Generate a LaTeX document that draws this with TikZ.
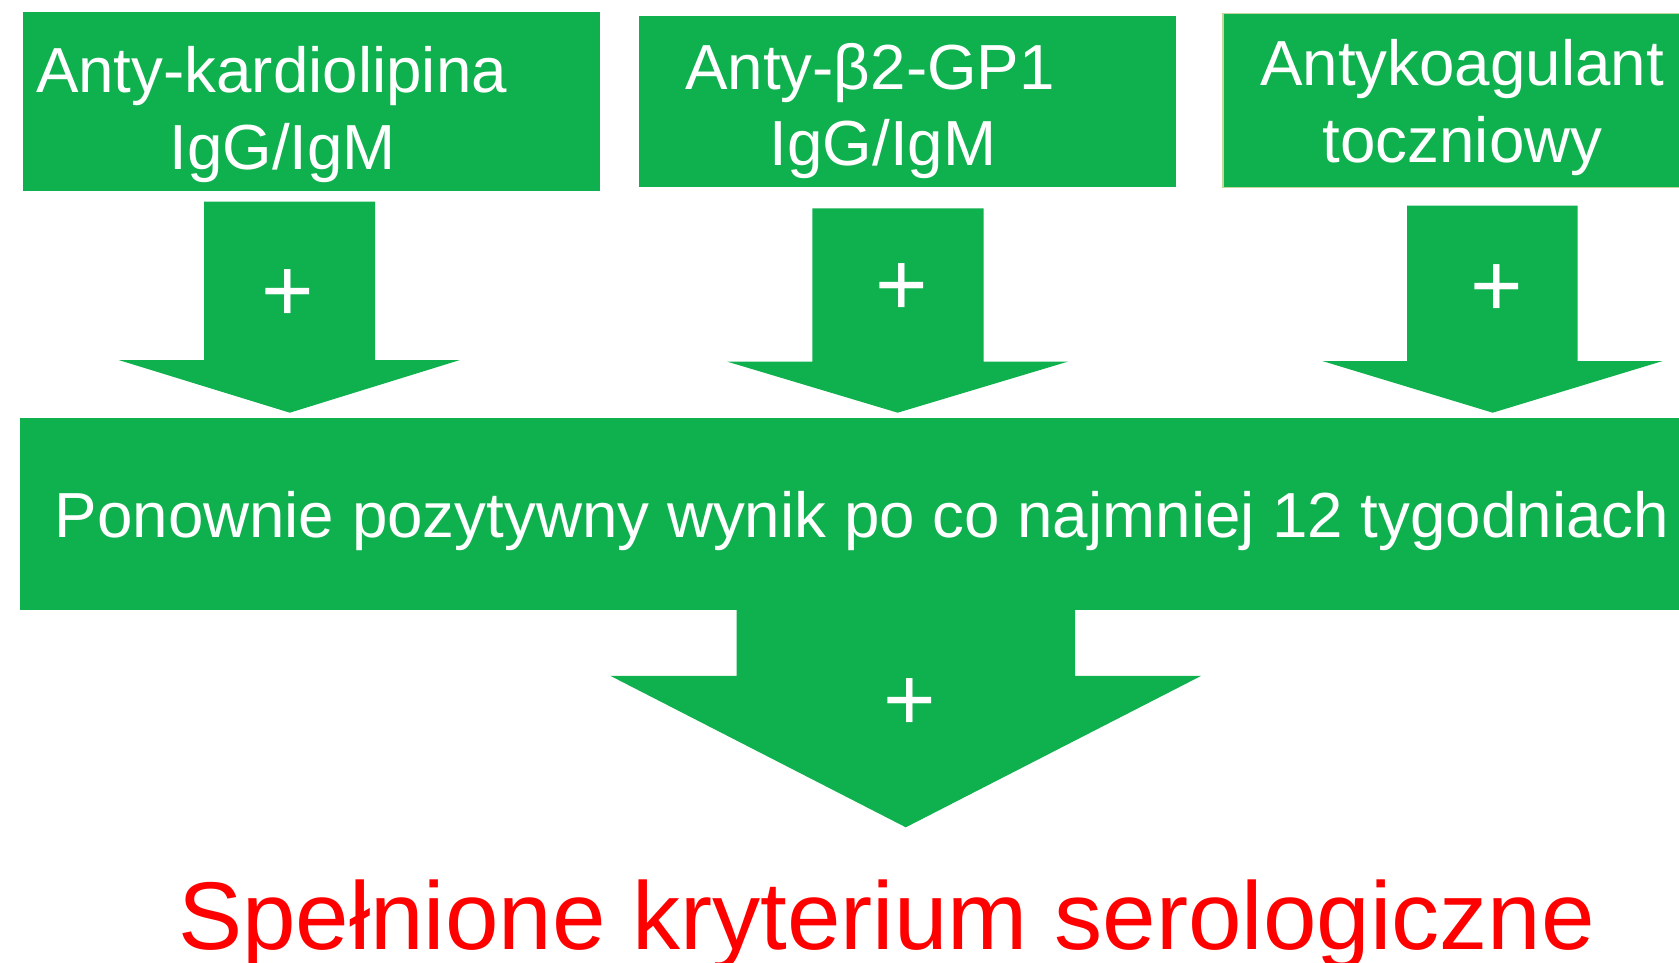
\documentclass[tikz,border=0pt]{standalone}
\usepackage{fontspec}
\setmainfont{Liberation Sans}
\definecolor{apsgreen}{RGB}{15,176,78}
\definecolor{boxedge}{RGB}{195,214,155}
\begin{document}
\begin{tikzpicture}[x=1pt,y=-1pt,
  panel/.style={fill=apsgreen, draw=none, inner sep=0, anchor=north west},
  lbl/.style={text=white, font=\fontsize{63.7}{76}\selectfont, inner sep=0, anchor=base},
  plussign/.style={text=white, font=\fontsize{90}{90}\selectfont, inner sep=0, anchor=base},
  blockarrow/.style={fill=apsgreen},
  result/.style={text=red, font=\fontsize{96.2}{100}\selectfont, inner sep=0, anchor=base}]
\useasboundingbox (0,0) rectangle (1679,963);

% three antibody tests
\node[panel, minimum width=577, minimum height=178.7] (kard) at (23,12) {};
\node[panel, minimum width=537, minimum height=170.7] (beta) at (639,16) {};
\node[panel, draw=boxedge, line width=1.5pt, minimum width=460, minimum height=174] (luac) at (1222.3,12.7) {};

\node[lbl] (kardA) at (271.5,92.3) {Anty-kardiolipina};
\node[lbl] (kardB) at (282.7,170) {IgG/IgM};
\node[lbl] (betaA) at (870,89.3) {Anty-β2-GP1};
\node[lbl] (betaB) at (883,165.7) {IgG/IgM};
\node[lbl] (luacA) at (1462,85.7) {Antykoagulant};
\node[lbl] (luacB) at (1462.5,162.3) {toczniowy};

% block arrows into the repeat-test bar
\fill[blockarrow] (204,201.7) -- (375,201.7) -- (375,360) -- (460,360) -- (289.8,412.7) -- (118.6,360) -- (204,360) -- cycle;
\fill[blockarrow] (812.4,208.3) -- (983.5,208.3) -- (983.5,361.7) -- (1067.7,361.7) -- (897.7,412.7) -- (727.4,361.7) -- (812.4,361.7) -- cycle;
\fill[blockarrow] (1407,205.7) -- (1577.7,205.7) -- (1577.7,361) -- (1662.7,361) -- (1492.7,412.7) -- (1322.3,361) -- (1407,361) -- cycle;

\node[plussign] (plusA) at (288,321) {+};
\node[plussign] (plusB) at (902,315.5) {+};
\node[plussign] (plusC) at (1496.7,316) {+};

% repeat-test bar
\node[panel, minimum width=1660, minimum height=191.7] (repeat) at (20,418) {};
\node[lbl] (repeatT) at (862,537.2) {Ponownie pozytywny wynik po co najmniej 12 tygodniach};

% final arrow and result
\fill[blockarrow] (736.6,609) -- (1075,609) -- (1075,675.8) -- (1201.3,675.8) -- (905.8,827.3) -- (610.3,675.8) -- (736.6,675.8) -- cycle;
\node[plussign] (plusD) at (909.5,730.5) {+};

\node[result] (crit) at (886.5,949.4) {Spełnione kryterium serologiczne};
\end{tikzpicture}
\end{document}
